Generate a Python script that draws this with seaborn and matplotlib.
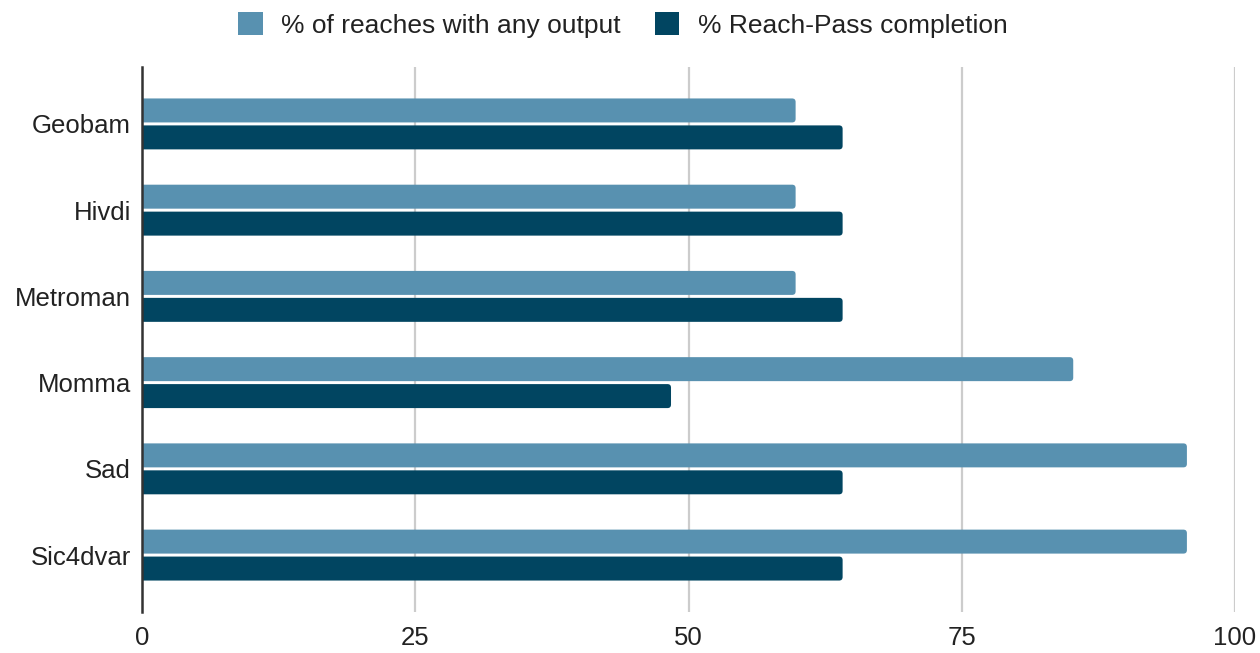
import matplotlib
matplotlib.use("Agg")
import matplotlib.pyplot as plt
from matplotlib.patches import FancyBboxPatch, Patch
import seaborn as sns
import pandas as pd

models = ["Geobam", "Hivdi", "Metroman", "Momma", "Sad", "Sic4dvar"]
pct_any_output = [59.8, 59.8, 59.8, 85.2, 95.6, 95.6]
pct_reach_pass = [64.1, 64.1, 64.1, 48.4, 64.1, 64.1]
series_names = ["% of reaches with any output", "% Reach-Pass completion"]
series_colors = ["#5891B0", "#014561"]
x_ticks = [0, 25, 50, 75, 100]

df = pd.DataFrame({
    "model": models * 2,
    "series": [series_names[0]] * len(models) + [series_names[1]] * len(models),
    "value": pct_any_output + pct_reach_pass,
})

sns.set_theme(style="white")
plt.rcParams["font.family"] = ["Liberation Sans", "DejaVu Sans"]

fig = plt.figure(figsize=(12.6, 6.53), dpi=100)
ax = fig.add_axes([142 / 1260, 1 - 612 / 653, (1235 - 142) / 1260, (612 - 67) / 653])

sns.barplot(data=df, x="value", y="model", hue="series", order=models,
            hue_order=series_names, palette=series_colors, orient="h",
            width=0.625, gap=0.11, saturation=1, ax=ax, zorder=3)

ax.set_xlim(0, 100)
ax.set_ylim(len(models) - 0.34, -0.66)
ax.set_xticks(x_ticks)
ax.set_xlabel("")
ax.set_ylabel("")
ax.grid(axis="x", color="#CCCCCC", linewidth=1.6, zorder=0)
ax.grid(axis="y", visible=False)
ax.set_axisbelow(True)
for side in ["top", "right", "bottom"]:
    ax.spines[side].set_visible(False)
ax.spines["left"].set_color("#333333")
ax.spines["left"].set_linewidth(1.8)
ax.spines["left"].set_zorder(5)
ax.tick_params(axis="both", length=0, labelsize=18.5, colors="#222222")
ax.tick_params(axis="y", pad=8)
ax.tick_params(axis="x", pad=10)

# round the outer end of each bar
fig.canvas.draw()
px_x = ax.transData.transform((1, 0))[0] - ax.transData.transform((0, 0))[0]
px_y = abs(ax.transData.transform((0, 1))[1] - ax.transData.transform((0, 0))[1])
radius_px = 3.5
rx = radius_px / px_x
ry = radius_px / px_y
bars = list(ax.patches)
for bar in bars:
    x0, y0 = bar.get_x(), bar.get_y()
    w, h = bar.get_width(), bar.get_height()
    if w <= 0:
        continue
    rounded = FancyBboxPatch((x0 - rx, y0), w + rx, h,
                             boxstyle=f"round,pad=0,rounding_size={rx}",
                             mutation_aspect=ry / rx,
                             facecolor=bar.get_facecolor(), edgecolor="none",
                             linewidth=0, zorder=3, clip_on=True)
    ax.add_patch(rounded)
    bar.remove()

if ax.get_legend() is not None:
    ax.get_legend().remove()

handles = [Patch(facecolor=c, edgecolor="none") for c in series_colors]
fig.legend(handles, series_names, loc="center", bbox_to_anchor=(0.4945, 1 - 25 / 653),
           ncol=2, frameon=False, fontsize=19, handlelength=0.92, handleheight=0.95,
           handletextpad=0.7, columnspacing=1.3, labelcolor="#222222")

fig.savefig("out.png", dpi=100)
